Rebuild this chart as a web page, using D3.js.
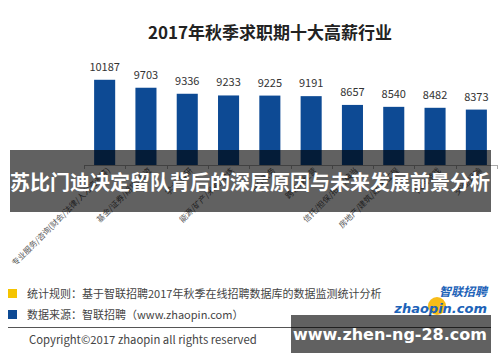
<!DOCTYPE html>
<html>
<head>
<meta charset="utf-8">
<script src="https://cdn.jsdelivr.net/npm/d3@7"></script>
<style>
  body { margin: 0; background: #fff; }
  svg { display: block; font-family: "Noto Sans CJK SC", "Noto Sans", sans-serif; }
</style>
</head>
<body>
<div id="chart"></div>
<script>
const categories = [
  '专业服务/咨询(财会/法律/人力资源等)',
  '基金/证券/期货/投资',
  '学术/科研',
  '能源/矿产/采掘/冶炼',
  '中介服务',
  '跨领域经营',
  '信托/担保/拍卖/典当',
  '房地产/建筑/建材/工程',
  '网络游戏',
  '交通/运输'
];
const salaries = [10187, 9703, 9336, 9233, 9225, 9191, 8657, 8540, 8482, 8373];
const yDomain = [5000, 12000];

const title = '2017年秋季求职期十大高薪行业';
const banner = '苏比门迪决定留队背后的深层原因与未来发展前景分析';
const notes = [
  { color: '#f5c400', text: '统计规则：基于智联招聘2017年秋季在线招聘数据库的数据监测统计分析' },
  { color: '#0d4a94', text: '数据来源：智联招聘（www.zhaopin.com）' }
];

const width = 500, height = 362;
const svg = d3.select('#chart').append('svg')
  .attr('width', width)
  .attr('height', height);

// title
svg.append('text')
  .attr('x', 270).attr('y', 39)
  .attr('text-anchor', 'middle')
  .attr('font-size', 17).attr('font-weight', 'bold')
  .attr('fill', '#222')
  .text(title);

const x = d3.scaleBand()
  .domain(categories)
  .range([84, 497])
  .paddingInner(0.49)
  .paddingOuter(0.245);

const y = d3.scaleLinear()
  .domain(yDomain)
  .range([165, 50]);

const data = categories.map((c, i) => ({ cat: c, value: salaries[i] }));

svg.selectAll('rect.bar')
  .data(data)
  .enter()
  .append('rect')
  .attr('class', 'bar')
  .attr('x', d => x(d.cat))
  .attr('y', d => y(d.value))
  .attr('width', x.bandwidth())
  .attr('height', d => y(yDomain[0]) - y(d.value))
  .attr('fill', '#0d4a94');

svg.selectAll('text.val')
  .data(data)
  .enter()
  .append('text')
  .attr('class', 'val')
  .attr('x', d => x(d.cat) + x.bandwidth() / 2)
  .attr('y', d => y(d.value) - 9)
  .attr('text-anchor', 'middle')
  .attr('font-size', 11)
  .attr('fill', '#333')
  .text(d => d.value);

// x axis: ticks between categories
const axis = svg.append('g');
axis.append('line')
  .attr('x1', 84).attr('x2', 497)
  .attr('y1', 165.5).attr('y2', 165.5)
  .attr('stroke', '#aaa');
const bounds = categories.map(c => x(c) - x.step() * x.paddingInner() / 2).concat([497]);
axis.selectAll('line.tick')
  .data(bounds)
  .enter()
  .append('line')
  .attr('x1', d => Math.round(d) + 0.5).attr('x2', d => Math.round(d) + 0.5)
  .attr('y1', 165).attr('y2', 169)
  .attr('stroke', '#aaa');

svg.selectAll('text.cat')
  .data(categories)
  .enter()
  .append('text')
  .attr('class', 'cat')
  .attr('text-anchor', 'end')
  .attr('font-size', 8)
  .attr('fill', '#555')
  .attr('transform', c => `translate(${x(c) + x.bandwidth() / 2 + 6},${171}) rotate(-45)`)
  .text(c => c);

// footer notes
const foot = svg.append('g');
foot.selectAll('rect')
  .data(notes)
  .enter()
  .append('rect')
  .attr('x', 8).attr('y', (d, i) => 289 + i * 21)
  .attr('width', 9).attr('height', 9)
  .attr('fill', d => d.color);
foot.selectAll('text')
  .data(notes)
  .enter()
  .append('text')
  .attr('x', 27).attr('y', (d, i) => 298 + i * 21)
  .attr('font-size', 11)
  .attr('fill', '#444')
  .text(d => d.text);

svg.append('line')
  .attr('x1', 8).attr('x2', 491)
  .attr('y1', 327.5).attr('y2', 327.5)
  .attr('stroke', '#555');

svg.append('text')
  .attr('x', 29).attr('y', 344)
  .attr('font-size', 11.3)
  .attr('fill', '#444')
  .text('Copyright©2017 zhaopin all rights reserved');

// logo
const logo = svg.append('g');
logo.append('circle')
  .attr('cx', 437).attr('cy', 306).attr('r', 9)
  .attr('fill', '#f7b500').attr('opacity', 0.9);
logo.append('text')
  .attr('x', 487).attr('y', 296)
  .attr('text-anchor', 'end')
  .attr('font-size', 12).attr('font-weight', 'bold').attr('font-style', 'italic')
  .attr('fill', '#1d63b8')
  .text('智联招聘');
logo.append('text')
  .attr('x', 487).attr('y', 313)
  .attr('text-anchor', 'end')
  .attr('font-family', '"DejaVu Sans", sans-serif')
  .attr('font-size', 13).attr('font-weight', 'bold').attr('font-style', 'italic')
  .attr('fill', '#1d63b8')
  .text('zhaopin.com');

// overlay banners
svg.append('rect')
  .attr('x', 10).attr('y', 150)
  .attr('width', 481).attr('height', 62)
  .attr('fill', '#000').attr('opacity', 0.62);
svg.append('text')
  .attr('x', 250).attr('y', 190)
  .attr('text-anchor', 'middle')
  .attr('font-size', 20).attr('font-weight', 'bold')
  .attr('fill', '#fff')
  .text(banner);

svg.append('rect')
  .attr('x', 291).attr('y', 315)
  .attr('width', 200).attr('height', 38)
  .attr('fill', '#000').attr('opacity', 0.62);
svg.append('text')
  .attr('x', 390).attr('y', 340)
  .attr('text-anchor', 'middle')
  .attr('font-family', '"DejaVu Sans", sans-serif')
  .attr('font-size', 16).attr('font-weight', 'bold')
  .attr('fill', '#fff')
  .text('www.zhen-ng-28.com');
</script>
</body>
</html>
